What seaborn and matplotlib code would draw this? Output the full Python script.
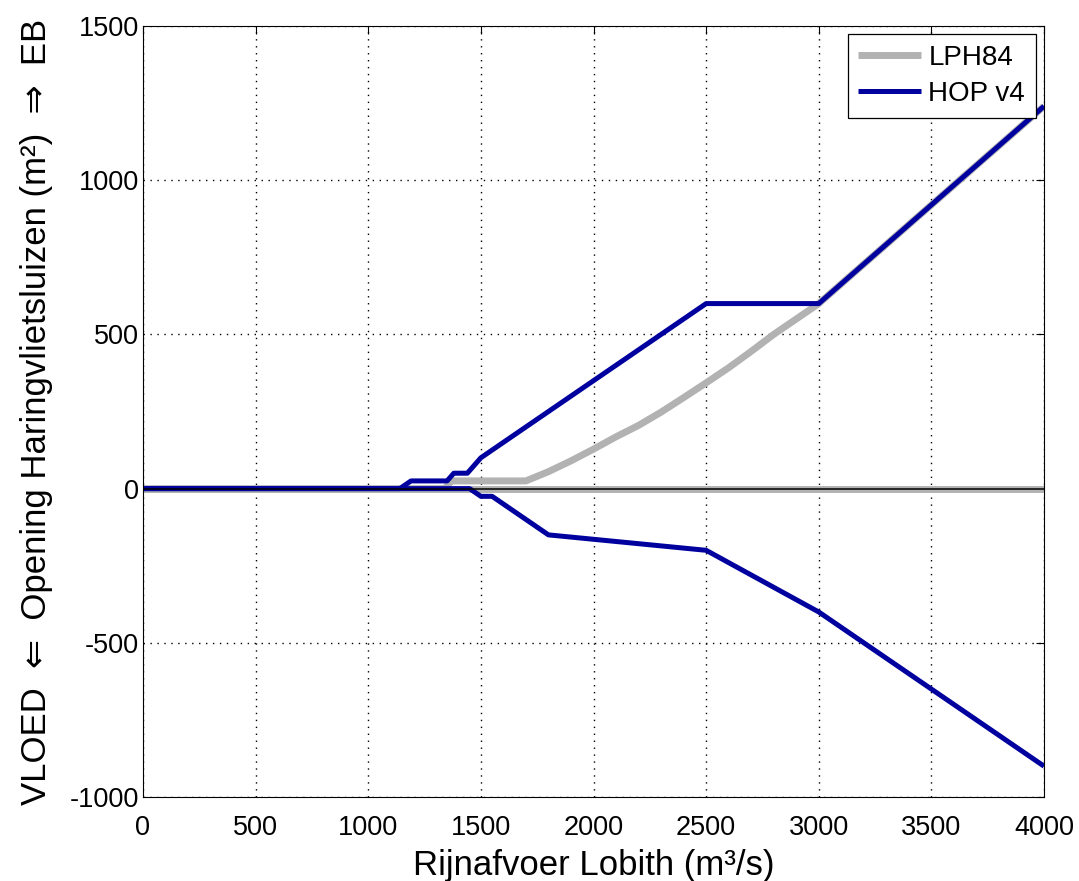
import matplotlib
matplotlib.use("Agg")
import matplotlib.pyplot as plt
import seaborn as sns
import pandas as pd

# ---- data ----
lph_eb_x = [0, 1340, 1370, 1700, 1800, 1900, 2000, 2100, 2200, 2300, 2400, 2500,
            2600, 2700, 2800, 2900, 3000, 4000]
lph_eb_y = [0, 0, 25, 25, 55, 90, 128, 168, 205, 248, 295, 343,
            392, 445, 500, 550, 600, 1240]
lph_vloed_x = [0, 4000]
lph_vloed_y = [0, 0]

hop_eb_x = [0, 1140, 1190, 1350, 1380, 1440, 1500, 2500, 3000, 4000]
hop_eb_y = [0, 0, 25, 25, 50, 50, 100, 600, 600, 1240]
hop_vloed_x = [0, 1450, 1500, 1550, 1800, 2500, 3000, 4000]
hop_vloed_y = [0, 0, -25, -25, -150, -200, -400, -900]

series_names = ["LPH84", "HOP v4"]
x_ticks = [0, 500, 1000, 1500, 2000, 2500, 3000, 3500, 4000]
y_ticks = [-1000, -500, 0, 500, 1000, 1500]
y_tick_labels = ["-1000", "-500", "0", "500", "1000", "1500"]

sns.set_style("white")
plt.rcParams['font.family'] = ['Liberation Sans', 'DejaVu Sans']
plt.rcParams['text.color'] = 'black'
plt.rcParams['axes.labelcolor'] = 'black'
plt.rcParams['xtick.color'] = 'black'
plt.rcParams['ytick.color'] = 'black'

fig = plt.figure(figsize=(10.79, 8.81), dpi=100)
ax = fig.add_axes([0.1325, 0.0953, 0.8351, 0.8752])

gray = "#b2b2b2"
blue = "#00009f"

def draw(xs, ys, color, lw, label):
    df = pd.DataFrame({"x": xs, "y": ys})
    sns.lineplot(data=df, x="x", y="y", ax=ax, color=color, linewidth=lw,
                 sort=False, estimator=None, label=label,
                 solid_capstyle="butt", zorder=2)

draw(lph_vloed_x, lph_vloed_y, gray, 5.0, None)
draw(lph_eb_x, lph_eb_y, gray, 5.0, series_names[0])
draw(hop_vloed_x, hop_vloed_y, blue, 3.6, None)
draw(hop_eb_x, hop_eb_y, blue, 3.6, series_names[1])
ax.axhline(0, color="black", linewidth=1.1, zorder=5)

ax.set_xlim(0, 4000)
ax.set_ylim(-1000, 1500)
ax.set_xticks(x_ticks)
ax.set_yticks(y_ticks)
ax.set_yticklabels(y_tick_labels)
ax.tick_params(direction="in", length=6, width=0.8, top=True, right=True,
               labelsize=19.5, colors="black")
ax.tick_params(axis="x", pad=13)
ax.tick_params(axis="y", pad=3)
for s in ax.spines.values():
    s.set_visible(True)
    s.set_color("black")
    s.set_linewidth(0.8)
ax.grid(True, linestyle=(0, (1, 4)), color="black", linewidth=1.0)
ax.set_axisbelow(True)

ax.set_xlabel("Rijnafvoer Lobith (m\u00b3/s)", fontsize=25, labelpad=6)
ax.set_ylabel("VLOED  \u21d0  Opening Haringvlietsluizen (m\u00b2)  \u21d2  EB",
              fontsize=25, labelpad=12)

leg = ax.legend(loc="upper right", fontsize=20, frameon=True, fancybox=False,
                edgecolor="black", framealpha=1, handlelength=2.27,
                borderaxespad=0.3, borderpad=0.38, labelspacing=0.37,
                handletextpad=0.25)
leg.get_frame().set_linewidth(0.9)

fig.savefig("out.png", dpi=100)
